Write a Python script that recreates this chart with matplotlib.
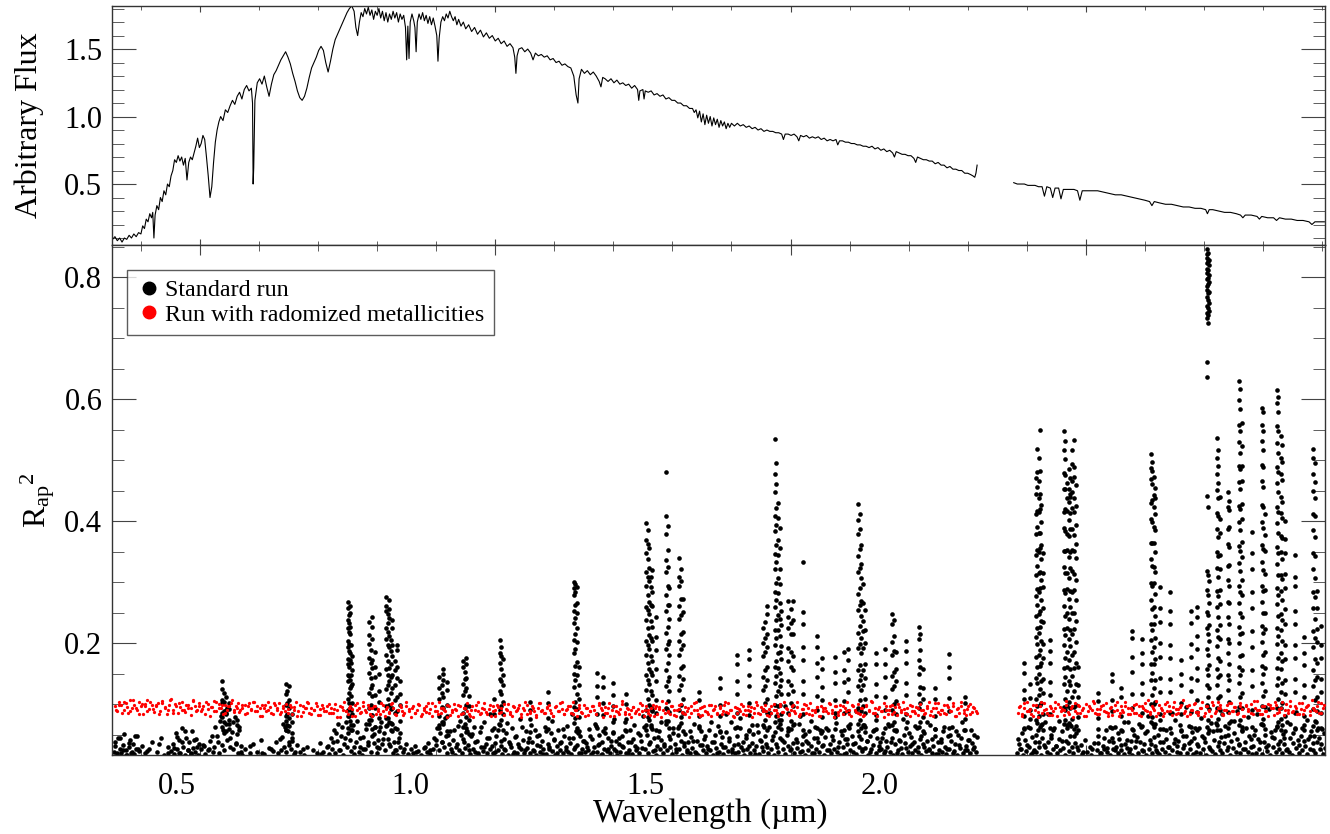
import numpy as np
import matplotlib
matplotlib.use('Agg')
import matplotlib.pyplot as plt
from matplotlib.ticker import MultipleLocator
from matplotlib.lines import Line2D

plt.rcParams['font.family'] = ['Liberation Serif', 'DejaVu Serif']
plt.rcParams['mathtext.fontset'] = 'custom'
plt.rcParams['mathtext.rm'] = 'Liberation Serif'
plt.rcParams['mathtext.it'] = 'Liberation Serif:italic'

# ---- top panel: spectrum (wavelength in micron, arbitrary flux) ----
spec_wl_a = [0.352, 0.356, 0.360, 0.364, 0.368, 0.372, 0.376, 0.380, 0.384, 0.388,
             0.392, 0.396, 0.400, 0.403, 0.406, 0.409, 0.412, 0.415, 0.418, 0.420,
             0.422, 0.424, 0.427, 0.430, 0.433, 0.436, 0.439, 0.442, 0.445, 0.448,
             0.451, 0.454, 0.457, 0.460, 0.463, 0.466, 0.469, 0.472, 0.475, 0.478,
             0.481, 0.484, 0.487, 0.490, 0.493, 0.496, 0.499, 0.502, 0.505, 0.508,
             0.511, 0.514, 0.517, 0.520, 0.523, 0.526, 0.529, 0.532, 0.535, 0.539,
             0.543, 0.547, 0.551, 0.555, 0.559, 0.563, 0.567, 0.571, 0.575, 0.579,
             0.583, 0.587, 0.589, 0.590, 0.591, 0.593, 0.597, 0.601, 0.605, 0.609,
             0.613, 0.617, 0.621, 0.625, 0.629, 0.633, 0.637, 0.641, 0.645, 0.649,
             0.653, 0.657, 0.661, 0.665, 0.669, 0.673, 0.677, 0.681, 0.685, 0.689,
             0.693, 0.697, 0.701, 0.705, 0.709, 0.713, 0.717, 0.721, 0.725, 0.729,
             0.733, 0.737, 0.741, 0.745, 0.749, 0.753, 0.757, 0.761, 0.764, 0.767,
             0.770, 0.773, 0.776, 0.779, 0.782, 0.785, 0.788, 0.791, 0.794, 0.797,
             0.800, 0.803, 0.806, 0.809, 0.812, 0.815, 0.818, 0.821, 0.824, 0.827,
             0.830, 0.833, 0.836, 0.839, 0.842, 0.845, 0.848, 0.850, 0.852, 0.854,
             0.856, 0.859, 0.862, 0.864, 0.866, 0.868, 0.871, 0.874, 0.877, 0.880,
             0.883, 0.886, 0.889, 0.892, 0.895, 0.898, 0.901, 0.903, 0.905, 0.908,
             0.911, 0.914, 0.917, 0.920, 0.923, 0.926, 0.929, 0.932, 0.935, 0.938,
             0.942, 0.946, 0.950, 0.955, 0.960, 0.965, 0.970, 0.975, 0.980, 0.985,
             0.990, 0.995, 1.000, 1.005, 1.010, 1.015, 1.020, 1.025, 1.030, 1.033,
             1.035, 1.037, 1.040, 1.045, 1.050, 1.055, 1.060, 1.064, 1.068, 1.073,
             1.078, 1.083, 1.088, 1.093, 1.098, 1.103, 1.108, 1.113, 1.118, 1.123,
             1.128, 1.133, 1.137, 1.140, 1.142, 1.146, 1.151, 1.156, 1.161, 1.166,
             1.171, 1.176, 1.179, 1.182, 1.186, 1.191, 1.196, 1.201, 1.206, 1.211,
             1.216, 1.221, 1.226, 1.231, 1.236, 1.241, 1.243, 1.245, 1.250, 1.252,
             1.254, 1.259, 1.264, 1.269, 1.274, 1.279, 1.284, 1.289, 1.294, 1.299,
             1.304, 1.309, 1.314, 1.319, 1.324, 1.329, 1.334, 1.337, 1.340, 1.343,
             1.346, 1.349, 1.352, 1.355, 1.358, 1.361, 1.364, 1.367, 1.370, 1.373,
             1.376, 1.379, 1.382, 1.385, 1.388, 1.391, 1.394, 1.397, 1.400, 1.405,
             1.410, 1.415, 1.420, 1.425, 1.430, 1.435, 1.440, 1.445, 1.450, 1.455,
             1.460, 1.465, 1.470, 1.475, 1.480, 1.485, 1.488, 1.491, 1.496, 1.501,
             1.506, 1.511, 1.514, 1.517, 1.522, 1.527, 1.532, 1.537, 1.542, 1.547,
             1.552, 1.557, 1.562, 1.567, 1.572, 1.577, 1.580, 1.583, 1.588, 1.593,
             1.598, 1.603, 1.608, 1.613, 1.618, 1.623, 1.628, 1.633, 1.638, 1.643,
             1.648, 1.653, 1.658, 1.663, 1.668, 1.673, 1.676, 1.679, 1.684, 1.689,
             1.694, 1.699, 1.704, 1.709, 1.712, 1.715, 1.720, 1.725, 1.730, 1.735,
             1.740, 1.745, 1.750, 1.755, 1.760, 1.765, 1.770, 1.775, 1.780, 1.785,
             1.790, 1.795, 1.800, 1.805, 1.809, 1.812, 1.814, 1.816]
spec_flux_a = [0.09, 0.11, 0.08, 0.10, 0.07, 0.10, 0.09, 0.12, 0.10, 0.13,
               0.11, 0.14, 0.13, 0.19, 0.17, 0.24, 0.22, 0.28, 0.25, 0.29,
               0.10, 0.27, 0.34, 0.31, 0.40, 0.37, 0.45, 0.42, 0.50, 0.48,
               0.56, 0.60, 0.68, 0.66, 0.71, 0.67, 0.70, 0.64, 0.69, 0.53,
               0.66, 0.70, 0.68, 0.73, 0.78, 0.84, 0.77, 0.80, 0.86, 0.83,
               0.70, 0.56, 0.40, 0.48, 0.66, 0.81, 0.90, 0.96, 1.00, 0.97,
               1.05, 1.03, 1.08, 1.12, 1.09, 1.15, 1.18, 1.13, 1.20, 1.23,
               1.19, 1.21, 1.10, 0.50, 0.62, 1.12, 1.25, 1.28, 1.24, 1.30,
               1.22, 1.15, 1.24, 1.31, 1.34, 1.38, 1.42, 1.45, 1.48, 1.44,
               1.39, 1.32, 1.26, 1.19, 1.14, 1.12, 1.15, 1.21, 1.29, 1.36,
               1.40, 1.44, 1.49, 1.52, 1.49, 1.40, 1.33, 1.41, 1.50, 1.57,
               1.61, 1.65, 1.69, 1.73, 1.77, 1.80, 1.82, 1.78, 1.66, 1.60,
               1.70, 1.77, 1.74, 1.80, 1.76, 1.81, 1.75, 1.79, 1.72, 1.78,
               1.75, 1.80, 1.73, 1.78, 1.71, 1.77, 1.70, 1.76, 1.72, 1.78,
               1.73, 1.77, 1.70, 1.76, 1.72, 1.75, 1.66, 1.42, 1.67, 1.43,
               1.70, 1.76, 1.71, 1.66, 1.48, 1.70, 1.76, 1.72, 1.77, 1.71,
               1.75, 1.69, 1.74, 1.68, 1.73, 1.67, 1.60, 1.41, 1.58, 1.70,
               1.74, 1.71, 1.76, 1.73, 1.78, 1.74, 1.71, 1.74, 1.68, 1.72,
               1.67, 1.70, 1.65, 1.68, 1.63, 1.66, 1.61, 1.64, 1.59, 1.62,
               1.58, 1.60, 1.56, 1.58, 1.54, 1.56, 1.52, 1.54, 1.51, 1.44,
               1.32, 1.45, 1.50, 1.51, 1.48, 1.50, 1.47, 1.42, 1.47, 1.45,
               1.46, 1.44, 1.45, 1.42, 1.43, 1.40, 1.41, 1.38, 1.39, 1.37,
               1.36, 1.30, 1.16, 1.10, 1.28, 1.35, 1.32, 1.34, 1.31, 1.33,
               1.30, 1.26, 1.22, 1.29, 1.28, 1.26, 1.28, 1.25, 1.27, 1.24,
               1.25, 1.23, 1.24, 1.21, 1.23, 1.20, 1.12, 1.19, 1.20, 1.13,
               1.19, 1.18, 1.19, 1.16, 1.17, 1.15, 1.16, 1.13, 1.14, 1.12,
               1.12, 1.10, 1.10, 1.08, 1.08, 1.06, 1.06, 1.03, 1.05, 0.99,
               1.04, 0.96, 1.02, 0.94, 1.01, 0.95, 1.00, 0.93, 0.99, 0.94,
               0.98, 0.92, 0.97, 0.93, 0.96, 0.91, 0.95, 0.92, 0.95, 0.93,
               0.95, 0.93, 0.94, 0.92, 0.93, 0.91, 0.92, 0.90, 0.91, 0.89,
               0.90, 0.89, 0.89, 0.88, 0.88, 0.87, 0.83, 0.87, 0.87, 0.86,
               0.87, 0.85, 0.82, 0.86, 0.85, 0.86, 0.84, 0.85, 0.84, 0.85,
               0.83, 0.84, 0.82, 0.83, 0.82, 0.83, 0.79, 0.82, 0.82, 0.81,
               0.81, 0.80, 0.80, 0.79, 0.79, 0.78, 0.78, 0.77, 0.78, 0.76,
               0.77, 0.75, 0.76, 0.74, 0.75, 0.73, 0.70, 0.74, 0.73, 0.72,
               0.72, 0.71, 0.71, 0.69, 0.66, 0.70, 0.69, 0.68, 0.68, 0.67,
               0.67, 0.65, 0.66, 0.64, 0.64, 0.62, 0.63, 0.61, 0.61, 0.60,
               0.60, 0.58, 0.58, 0.57, 0.56, 0.55, 0.58, 0.64]
spec_wl_b = [1.878, 1.884, 1.890, 1.896, 1.902, 1.908, 1.914, 1.920, 1.926, 1.930,
             1.934, 1.940, 1.944, 1.948, 1.954, 1.958, 1.962, 1.968, 1.974, 1.980,
             1.986, 1.990, 1.994, 2.000, 2.010, 2.020, 2.030, 2.040, 2.050, 2.060,
             2.070, 2.080, 2.090, 2.100, 2.108, 2.112, 2.116, 2.125, 2.135, 2.145,
             2.155, 2.165, 2.175, 2.185, 2.195, 2.203, 2.206, 2.209, 2.215, 2.225,
             2.235, 2.245, 2.255, 2.262, 2.266, 2.270, 2.280, 2.290, 2.294, 2.298,
             2.308, 2.318, 2.323, 2.328, 2.338, 2.348, 2.358, 2.368, 2.378, 2.383,
             2.388, 2.398, 2.404]
spec_flux_b = [0.51, 0.50, 0.50, 0.50, 0.49, 0.49, 0.49, 0.48, 0.48, 0.41,
               0.48, 0.47, 0.40, 0.47, 0.47, 0.39, 0.46, 0.46, 0.46, 0.46,
               0.45, 0.38, 0.45, 0.45, 0.45, 0.45, 0.44, 0.43, 0.42, 0.42,
               0.41, 0.40, 0.39, 0.38, 0.37, 0.34, 0.37, 0.36, 0.35, 0.35,
               0.34, 0.33, 0.33, 0.32, 0.32, 0.31, 0.28, 0.31, 0.31, 0.30,
               0.29, 0.29, 0.28, 0.27, 0.25, 0.27, 0.27, 0.26, 0.24, 0.26,
               0.25, 0.25, 0.23, 0.25, 0.24, 0.24, 0.23, 0.23, 0.22, 0.20,
               0.22, 0.22, 0.22]

# ---- bottom panel: R_ap^2 per wavelength bin (values in units of 0.001) ----
# standard run, low-level points on two interleaved wavelength samplings
bg_start_a, bg_start_b, bg_step = 0.354, 1.884, 0.0025
bg_r2_a = [22, 38, 17, 45, 26, 19, 33, 51, 24, 16, 29, 41, 20, 35, 18, 27, 47, 23, 5, 31,
           5, 19, 5, 5, 26, 5, 38, 5, 5, 21, 5, 5, 44, 5, 17, 5, 5, 29, 5, 23,
           34, 18, 52, 27, 41, 20, 61, 30, 16, 45, 25, 38, 19, 56, 28, 22, 43, 17, 35, 26,
           5, 31, 18, 5, 24, 40, 5, 21, 29, 5, 48, 19, 72, 33, 58, 24, 86, 41, 67, 30,
           54, 27, 78, 36, 20, 63, 31, 17, 5, 26, 5, 5, 19, 5, 34, 5, 5, 22, 5, 5,
           41, 5, 18, 5, 5, 28, 5, 5, 23, 5, 37, 19, 5, 25, 46, 30, 62, 21, 55, 38,
           27, 44, 18, 5, 33, 5, 21, 5, 5, 17, 5, 29, 5, 5, 5, 24, 5, 5, 19, 5,
           36, 5, 22, 5, 5, 31, 18, 45, 26, 58, 20, 39, 67, 24, 48, 17, 35, 71, 29, 52,
           41, 23, 65, 18, 37, 54, 21, 30, 17, 46, 26, 59, 33, 74, 22, 48, 36, 63, 19, 41,
           28, 70, 35, 52, 24, 66, 43, 31, 57, 20, 38, 25, 17, 44, 29, 5, 22, 5, 34, 18,
           5, 26, 5, 19, 31, 5, 23, 5, 17, 5, 28, 5, 21, 36, 18, 5, 27, 45, 33, 61,
           24, 52, 38, 70, 29, 47, 19, 35, 56, 22, 41, 17, 30, 64, 25, 49, 20, 37, 28, 55,
           33, 18, 47, 26, 62, 21, 39, 16, 54, 30, 23, 71, 35, 19, 44, 27, 58, 20, 36, 48,
           25, 67, 31, 18, 42, 24, 53, 17, 38, 29, 60, 22, 46, 19, 34, 76, 27, 41, 20, 55,
           28, 45, 19, 37, 24, 58, 17, 33, 49, 21, 40, 26, 62, 18, 35, 29, 52, 23, 43, 16,
           31, 57, 25, 38, 20, 47, 30, 64, 22, 36, 18, 44, 27, 55, 33, 19, 48, 26, 39, 21,
           36, 24, 59, 18, 42, 29, 67, 21, 33, 50, 17, 38, 26, 61, 23, 45, 19, 31, 54, 27,
           40, 16, 35, 22, 48, 29, 70, 20, 37, 25, 57, 18, 43, 31, 24, 52, 19, 39, 28, 63,
           27, 49, 20, 38, 65, 23, 44, 17, 32, 56, 26, 41, 19, 35, 72, 24, 47, 29, 18, 53,
           34, 22, 60, 27, 40, 16, 31, 51, 25, 37, 20, 46, 28, 68, 21, 39, 17, 33, 55, 24,
           42, 19, 31, 58, 25, 37, 17, 49, 28, 64, 21, 35, 46, 18, 29, 54, 23, 40, 70, 26,
           33, 19, 47, 22, 61, 30, 38, 16, 44, 27, 57, 20, 36, 51, 24, 32, 66, 18, 41, 29,
           23, 48, 35, 19, 62, 27, 41, 17, 54, 30, 22, 45, 73, 26, 38, 18, 50, 31, 24, 59,
           36, 20, 43, 28, 67, 21, 34, 47, 17, 39, 25, 56, 32, 19, 44, 63, 27, 37, 22, 52,
           31, 17, 46, 24, 58, 35, 20, 41, 27, 69, 22, 38, 16, 50, 29, 43, 19, 34, 61, 25,
           47, 21, 36, 18, 55, 30, 42, 23, 66, 28, 39, 17, 48, 26, 33, 57, 20, 44, 24, 37,
           26, 53, 19, 39, 30, 64, 22, 45, 17, 34, 57, 24, 41, 28, 18, 49, 36, 71, 21, 32,
           46, 19, 38, 25, 60, 29, 43, 17, 35, 52, 23, 40, 27, 66, 20, 31, 48, 18, 37, 24,
           42, 21, 55, 30, 18, 47, 26, 39, 63, 23, 35, 17, 50, 28, 44, 20, 58, 32, 24, 41,
           19, 36, 27, 49, 22]
bg_r2_b = [19, 34, 27, 52, 17, 41, 23, 63, 30, 18, 46, 25, 38, 21, 57, 29, 16, 44, 33, 70,
           22, 37, 18, 49, 26, 60, 31, 20, 43, 24, 55, 28, 17, 39, 66, 23, 47, 30, 19, 36,
           52, 25, 5, 33, 18, 5, 41, 22, 5, 29, 17, 5, 36, 5, 24, 48, 19, 5, 31, 27,
           58, 21, 39, 17, 45, 26, 63, 30, 20, 42, 24, 55, 18, 35, 28, 71, 22, 40, 17, 50,
           29, 46, 19, 37, 62, 23, 34, 17, 55, 27, 41, 20, 68, 31, 24, 49, 18, 38, 26, 59,
           21, 43, 30, 16, 52, 25, 36, 74, 22, 40, 19, 57, 28, 33, 47, 20, 64, 26, 39, 18,
           44, 22, 35, 61, 19, 48, 27, 38, 17, 53, 30, 69, 23, 41, 18, 57, 32, 25, 46, 20,
           36, 64, 24, 50, 17, 39, 28, 72, 21, 43, 33, 19, 55, 26, 37, 60, 22, 47, 29, 18,
           31, 58, 20, 42, 26, 67, 18, 37, 49, 23, 33, 17, 54, 29, 44, 21, 62, 27, 39, 19,
           51, 34, 24, 70, 22, 45, 17, 36, 59, 28, 41, 20, 48, 25, 65, 31, 18, 43, 27, 56,
           24, 47, 19, 38, 61, 26, 35, 18, 52]
bg2_start_a, bg2_start_b, bg2_step = 0.3553, 1.8853, 0.005
bg2_r2_a = [31, 19, 44, 25, 17, 36, 21, 48, 27, 5, 5, 23, 5, 5, 5, 34, 5, 5, 19, 5,
            28, 46, 20, 37, 55, 24, 18, 41, 29, 5, 33, 5, 26, 47, 63, 38, 81, 52, 94, 44,
            70, 35, 58, 22, 5, 5, 31, 5, 5, 5, 20, 5, 5, 27, 5, 5, 42, 68, 57, 33,
            39, 21, 5, 5, 26, 5, 5, 5, 5, 5, 18, 5, 29, 5, 37, 52, 25, 63, 44, 80,
            57, 30, 72, 45, 26, 68, 38, 82, 51, 29, 63, 42, 77, 34, 55, 24, 38, 5, 27, 5,
            5, 5, 22, 5, 5, 30, 5, 24, 5, 41, 66, 38, 77, 49, 27, 58, 35, 72, 43, 60,
            25, 51, 37, 19, 63, 29, 45, 84, 32, 21, 57, 40, 26, 69, 35, 18, 48, 30, 62, 24,
            38, 66, 23, 47, 31, 18, 55, 27, 72, 41, 20, 36, 59, 25, 44, 83, 30, 52, 19, 40,
            29, 47, 21, 64, 34, 18, 53, 26, 40, 75, 23, 45, 31, 58, 19, 37, 66, 28, 49, 81,
            57, 35, 88, 24, 46, 70, 31, 92, 43, 61, 27, 50, 78, 36, 22, 55, 40, 19, 64, 33,
            47, 26, 71, 38, 19, 56, 30, 83, 44, 22, 60, 35, 77, 25, 49, 31, 66, 18, 54, 39,
            62, 29, 85, 47, 34, 74, 41, 96, 55, 27, 68, 38, 80, 23, 51, 36, 72, 20, 45, 58,
            33, 61, 24, 48, 79, 30, 55, 18, 42, 67, 35, 88, 47, 26, 63, 39, 21, 56, 74, 31,
            45, 23, 68, 37, 57, 19, 40, 76, 28, 52, 34, 64, 21, 47, 30, 71, 25, 43, 59, 18,
            38, 62, 27, 49, 20, 55, 33, 70, 24, 41, 58, 29, 46]
bg2_r2_b = [42, 26, 61, 33, 75, 21, 50, 38, 68, 29, 83, 45, 57, 31, 72, 40, 91, 36, 64, 48,
            30, 5, 22, 5, 5, 27, 5, 36, 19, 45, 28, 63, 37, 24, 52, 33, 70, 41, 26, 58,
            39, 67, 25, 53, 81, 34, 46, 22, 74, 38, 58, 29, 86, 43, 31, 65, 48, 95, 36, 54,
            61, 32, 77, 44, 98, 27, 55, 69, 38, 84, 47, 30, 72, 53, 88, 35, 63, 26, 79, 42,
            50, 83, 37, 66, 29, 92, 46, 58, 35, 76, 44, 27, 68, 52, 87, 33, 61, 40, 74, 48,
            36, 71, 45, 59, 28]

# standard run, columns of points where R_ap^2 rises
spike_wl = [0.538, 0.544, 0.549, 0.562, 0.645, 0.650, 0.655, 0.750, 0.754, 0.758,
            0.787, 0.792, 0.797, 0.804, 0.815, 0.820, 0.826, 0.833, 0.839, 0.905,
            0.912, 0.918, 0.945, 0.951, 0.956, 0.998, 1.008, 1.013, 1.059, 1.089,
            1.133, 1.138, 1.142, 1.172, 1.182, 1.199, 1.222, 1.255, 1.260, 1.266,
            1.272, 1.290, 1.295, 1.312, 1.318, 1.345, 1.380, 1.410, 1.430, 1.453,
            1.460, 1.474, 1.479, 1.484, 1.495, 1.505, 1.521, 1.545, 1.553, 1.575,
            1.590, 1.598, 1.615, 1.620, 1.626, 1.645, 1.660, 1.672, 1.678, 1.695,
            1.718, 1.724, 1.745, 1.768, 1.795, 1.895, 1.905, 1.918, 1.922, 1.927,
            1.940, 1.963, 1.968, 1.974, 1.980, 1.986, 2.020, 2.045, 2.060, 2.079,
            2.095, 2.110, 2.115, 2.125, 2.142, 2.162, 2.178, 2.189, 2.205, 2.209,
            2.222, 2.227, 2.240, 2.260, 2.265, 2.282, 2.298, 2.303, 2.323, 2.330,
            2.338, 2.354, 2.370, 2.385, 2.391, 2.398,
            0.541, 0.647, 0.752, 0.756, 0.789, 0.818, 0.823, 0.830, 0.909, 0.948,
            1.010, 1.135, 1.258, 1.263, 1.292, 1.315, 1.457, 1.476, 1.482, 1.500,
            1.618, 1.623, 1.675, 1.720, 1.915, 1.920, 1.925, 1.965, 1.971, 1.977,
            1.983, 2.112, 2.118, 2.207, 2.224, 2.243, 2.262, 2.300, 2.326, 2.333,
            2.388]
spike_r2 = [
    [63, 79, 86, 101, 106, 124, 138], [55, 68, 83, 91, 112], [59, 74, 92, 101], [51, 66, 74],
    [57, 72, 81, 99, 117, 133], [64, 77, 94, 106, 129], [52, 71, 84],
    [61, 90, 109, 137, 148, 166, 174, 193, 203, 224, 238, 257, 268],
    [72, 93, 127, 140, 172, 183, 214, 226, 249, 261], [58, 84, 101, 133, 155, 179],
    [67, 94, 118, 151, 176, 199, 213, 234], [59, 82, 113, 131, 159, 172, 207, 226, 242],
    [62, 93, 115, 144, 161, 185], [56, 77, 104, 122, 150],
    [64, 96, 125, 158, 180, 207, 224, 252, 261, 276], [71, 98, 137, 159, 193, 211, 241, 255, 271],
    [67, 93, 126, 148, 179, 197, 224, 237], [59, 89, 111, 142, 160, 189, 196], [53, 72, 98, 116, 137],
    [61, 81, 109, 126, 145], [67, 93, 112, 139, 150, 157], [56, 81, 98, 123, 136],
    [63, 86, 115, 133, 161, 170], [54, 79, 99, 127, 143, 165, 176], [51, 73, 96, 113],
    [61, 83, 108], [65, 90, 121, 141, 167, 184, 205], [57, 83, 103, 131, 148, 173],
    [54, 75, 90, 103], [59, 77, 102, 119],
    [69, 95, 128, 150, 183, 205, 233, 252, 279, 291, 300], [61, 92, 116, 147, 169, 202, 224, 250, 266, 292],
    [56, 78, 109, 131, 160], [61, 83, 112, 130, 151], [56, 82, 102, 128, 144], [53, 71, 96, 115, 134],
    [56, 75, 100, 116],
    [66, 91, 123, 148, 181, 204, 237, 259, 293, 316, 347, 369, 397],
    [73, 99, 133, 158, 190, 213, 247, 268, 302, 323, 355],
    [59, 90, 114, 147, 171, 204, 226, 261, 284, 320], [57, 85, 106, 137, 158, 189, 210, 242],
    [67, 94, 129, 155, 191, 216, 253, 279, 316, 336, 379, 408, 481],
    [61, 87, 121, 144, 180, 203, 239, 262, 291],
    [64, 90, 123, 146, 181, 204, 239, 261, 293, 309, 340], [56, 86, 109, 141, 163, 197, 218, 251, 273],
    [61, 80, 106, 120], [54, 81, 99, 127, 142], [63, 86, 117, 138, 165, 181],
    [56, 82, 102, 130, 147, 173, 189], [66, 90, 123, 145, 179, 200, 224],
    [57, 86, 109, 140, 161, 193, 215, 247, 261],
    [71, 99, 135, 160, 197, 222, 259, 284, 321, 346, 383, 408, 447, 477, 534],
    [63, 96, 122, 159, 184, 221, 246, 282, 307, 344, 369, 405, 429],
    [59, 84, 117, 139, 173, 195, 229, 252], [61, 85, 116, 137, 171, 192, 224, 243, 269],
    [65, 97, 121, 156, 179, 214, 237, 269], [58, 83, 116, 138, 172, 194, 231, 251, 333],
    [61, 90, 113, 145, 167, 194, 211], [56, 78, 107, 128, 157, 176], [59, 86, 106, 135, 153, 177],
    [57, 85, 105, 136, 156, 185], [64, 88, 119, 141, 172, 190],
    [67, 94, 130, 155, 192, 217, 254, 280, 317, 342, 379, 402, 428],
    [61, 88, 123, 147, 184, 208, 245, 269, 306, 330, 361], [54, 85, 108, 143, 165, 200, 222, 254],
    [59, 82, 113, 133, 165, 184], [61, 90, 112, 144, 165, 191], [66, 91, 124, 146, 180, 201, 232, 247],
    [56, 84, 105, 137, 157, 186], [61, 84, 115, 135, 167, 187, 203], [62, 93, 116, 150, 172, 206, 227],
    [56, 78, 108, 127, 157], [59, 80, 109, 126], [60, 89, 110, 142, 160, 182], [58, 76, 101, 112],
    [59, 80, 109, 123, 151, 167], [61, 90, 110, 133],
    [69, 97, 135, 161, 199, 225, 263, 289, 327, 353, 391, 417, 455, 481, 518],
    [62, 98, 124, 162, 188, 226, 252, 290, 317, 355, 381, 419, 445, 482, 550],
    [58, 83, 118, 141, 176, 199, 234, 257, 292, 315, 347], [61, 84, 115, 136, 168, 187, 205],
    [67, 95, 133, 159, 197, 223, 261, 287, 325, 351, 389, 415, 453, 479, 517, 548],
    [60, 96, 122, 160, 186, 224, 250, 288, 314, 352, 378, 416, 437, 462],
    [65, 93, 131, 157, 195, 221, 259, 285, 323, 349, 387, 413, 439, 445, 471],
    [59, 95, 121, 159, 185, 223, 249, 287, 313, 351, 377, 415, 437, 473, 488, 533],
    [57, 79, 111, 131, 161], [59, 77, 105, 118], [61, 89, 107, 137, 150], [58, 80, 112, 127],
    [59, 93, 117, 153, 177, 208, 220], [64, 85, 116, 135, 166, 183, 206],
    [71, 100, 139, 166, 205, 232, 271, 298, 337, 364, 403, 430, 469, 487, 510],
    [63, 100, 127, 166, 193, 232, 259, 298, 325, 364, 391, 423, 443, 473],
    [59, 84, 119, 142, 177, 200, 235, 257, 292], [61, 85, 119, 141, 175, 197, 231, 252, 283],
    [55, 83, 101, 131, 149, 172], [63, 87, 121, 143, 177, 199, 233, 252],
    [57, 87, 107, 139, 159, 191, 211, 243, 259],
    [62, 97, 131, 158, 190, 224, 251, 287, 318, 441, 636, 661, 733, 741, 752, 768, 779, 786,
     797, 806, 814, 823, 831, 838, 846],
    [58, 92, 126, 164, 203, 229, 266, 301, 744, 758, 775, 792, 803, 819, 828],
    [65, 93, 131, 157, 195, 221, 259, 285, 323, 349, 387, 413, 451, 477, 503, 536],
    [57, 90, 113, 148, 171, 206, 229, 264, 287, 322, 345, 380, 403, 440],
    [61, 87, 123, 147, 183, 207, 243, 267, 303, 327, 363, 387, 423, 447],
    [66, 95, 134, 161, 200, 227, 266, 293, 332, 359, 398, 425, 464, 491, 530, 557, 598, 630],
    [58, 93, 118, 155, 180, 217, 242, 279, 304, 341, 366, 403, 428, 465, 490, 523, 560],
    [63, 91, 129, 155, 193, 219, 257, 283, 321, 347, 382],
    [67, 96, 135, 162, 201, 228, 267, 294, 333, 360, 399, 426, 465, 492, 531, 557, 585],
    [59, 95, 121, 159, 185, 223, 249, 287, 313, 351, 377, 412],
    [64, 93, 132, 159, 198, 225, 264, 291, 330, 357, 396, 423, 462, 489, 528, 555, 593, 615],
    [57, 93, 119, 157, 183, 221, 247, 285, 311, 349, 375, 413, 439, 477, 503, 540],
    [56, 81, 116, 139, 174, 197, 232, 255, 290, 313, 348, 371, 400],
    [61, 85, 119, 141, 175, 197, 231, 253, 293, 309, 345], [58, 80, 112, 132, 164, 183, 210],
    [64, 92, 130, 156, 194, 220, 258, 284, 322, 348, 386, 412, 450, 477, 503, 518],
    [57, 89, 111, 145, 167, 201, 223, 257, 285], [61, 85, 119, 141, 175, 197, 228],
    # neighbouring columns
    [70, 89, 104, 118], [66, 83, 101, 121],
    [80, 101, 118, 146, 160, 187, 199, 218, 233, 246], [66, 90, 113, 129, 147, 168, 196],
    [73, 99, 126, 143, 167, 188], [77, 109, 132, 148, 170, 196, 218, 233, 247],
    [69, 92, 118, 144, 166, 187, 205], [61, 85, 107, 132, 155, 171],
    [71, 95, 118, 132], [68, 93, 122, 141, 152], [73, 96, 116, 137, 158, 179, 193],
    [77, 103, 139, 163, 190, 214, 241, 262, 284, 296],
    [79, 108, 140, 167, 196, 225, 254, 279, 308, 337, 362, 386],
    [63, 95, 122, 153, 178, 208, 236, 263, 292, 308],
    [72, 105, 137, 168, 199, 226, 262, 293, 324, 352, 392],
    [69, 98, 131, 159, 190, 215, 246, 272, 301, 322],
    [74, 101, 129, 156, 186, 208, 235],
    [80, 113, 146, 171, 208, 237, 270, 298, 333, 361, 394, 421, 460, 495],
    [67, 98, 129, 151, 185, 211, 240, 266, 297, 322, 356, 388],
    [72, 101, 132, 160, 186, 215, 233, 255],
    [74, 107, 140, 164, 199, 228, 262, 291, 323, 354, 387, 411],
    [66, 96, 131, 155, 192, 219, 236, 266, 297],
    [71, 100, 129, 153, 187, 212, 238], [70, 101, 128, 161, 189, 214],
    [74, 109, 143, 177, 210, 244, 277, 311, 344, 378, 411, 445, 470],
    [81, 114, 150, 181, 216, 247, 283, 314, 349, 381, 415, 438, 466, 503],
    [66, 102, 137, 168, 204, 236, 271, 303, 337, 361, 399, 427],
    [73, 108, 144, 176, 213, 245, 282, 314, 351, 383, 420, 452, 476, 501, 532],
    [69, 104, 137, 172, 206, 240, 273, 307, 341, 375, 402, 431, 452, 485],
    [76, 111, 146, 180, 215, 249, 284, 318, 353, 387, 421, 448, 466, 494, 517],
    [64, 99, 133, 167, 201, 236, 270, 304, 339, 362, 393, 425, 459],
    [78, 114, 151, 185, 221, 256, 293, 327, 364, 398, 435, 461, 482, 497],
    [67, 103, 139, 174, 209, 245, 281, 316, 350, 386, 412, 437, 454],
    [73, 111, 148, 180, 214, 246, 279, 311, 423, 724, 737, 749, 762, 774, 788, 799, 811, 826, 840],
    [76, 110, 145, 176, 210, 243, 277, 308, 342, 374, 408, 437, 463, 491, 517],
    [69, 104, 139, 166, 200, 232, 265, 294, 328, 358, 391, 418, 433],
    [74, 112, 147, 179, 214, 249, 284, 318, 351, 385, 419, 452, 486, 511, 548, 584, 617],
    [75, 113, 149, 181, 217, 250, 286, 319, 354, 388, 423, 455, 489, 516, 547, 578],
    [71, 108, 143, 176, 211, 244, 279, 312, 347, 380, 415, 448, 481, 511, 547, 578, 604],
    [65, 101, 135, 170, 203, 238, 271, 305, 338, 372, 405, 431, 467, 497, 524],
    [72, 107, 139, 173, 208, 240, 275, 307, 342, 374, 409, 437, 464, 495],
]

# run with randomized metallicities (units of 0.001), two wavelength ranges each sampled twice
red_range_a = (0.356, 1.815)
red_range_b = (1.885, 2.402)
red2_range_a = (0.3575, 1.8135)
red2_range_b = (1.8865, 2.4035)
red_r2_a = [96, 88, 104, 99, 91, 101, 85, 107, 94, 98, 90, 103, 97, 84, 100, 106, 92, 99, 87, 96,
            102, 89, 105, 93, 83, 98, 108, 91, 100, 86, 95, 104, 90, 99, 94, 82, 106, 96, 91, 101,
            88, 97, 103, 92, 81, 95, 105, 89, 100, 93, 84, 99, 91, 97, 107, 87, 96, 102, 90, 94,
            98, 85, 101, 92, 104, 88, 96, 80, 99, 94, 89, 103, 95, 83, 98, 91, 102, 87, 93, 100,
            92, 99, 84, 95, 103, 89, 81, 97, 93, 104, 86, 94, 90, 101, 82, 92, 98, 88, 96, 85,
            94, 86, 100, 91, 79, 95, 103, 89, 84, 97, 92, 80, 101, 94, 87, 96, 90, 99, 83, 93,
            97, 84, 92, 102, 89, 80, 95, 87, 100, 93, 82, 91, 98, 88, 85, 103, 92, 79, 96, 86,
            90, 98, 83, 94, 87, 101, 92, 81, 96, 89, 104, 85, 93, 88, 99, 82, 91, 100, 90, 80,
            96, 86, 93, 102, 84, 91, 79, 98, 89, 83, 94, 101, 87, 92, 81, 97, 90, 99, 85, 94,
            82, 92, 100, 87, 80, 95, 90, 98, 84, 93, 104, 83, 89, 97, 88, 78, 94, 101, 91, 85,
            93, 99, 85, 81, 95, 88, 102, 92, 83, 90, 97, 86, 103, 91, 80, 94, 87, 99, 93, 82,
            88, 97, 91, 83, 99, 93, 79, 95, 86, 102, 90, 81, 97, 87, 92, 105, 84, 94, 83, 90,
            95, 85, 92, 101, 88, 80, 97, 91, 82, 99, 93, 84, 95, 79, 90, 102, 87, 83, 97, 91,
            81, 92, 100, 85, 95, 88, 79, 97, 90, 104, 84, 93, 82, 96, 87, 99, 80, 91, 97, 86,
            93, 83, 98, 87, 102, 90, 81, 95, 85, 92, 100, 83, 90, 97, 88, 79, 93, 103, 85, 95,
            88, 98, 82, 92, 86, 100, 91, 80, 96, 87, 103, 92, 83, 90, 98, 85, 95, 81, 92, 100,
            86, 93, 102, 82, 90, 95, 80, 97, 88, 93, 85, 100, 91, 79, 96, 87, 98, 83, 93, 103,
            91, 80, 96, 87, 100, 84, 94, 82, 98, 90, 105, 85, 93, 81, 95, 88, 101, 91, 83, 96,
            98, 87, 82, 95, 90, 103, 85, 93, 80, 97, 88, 95, 82, 100, 91, 86, 94, 104, 89, 81,
            93, 101, 84, 90, 98, 83, 95, 88, 102, 80, 92, 86, 97, 91, 82, 96, 100, 87, 93, 85]
red_r2_b = [86, 97, 81, 93, 103, 88, 83, 99, 91, 79, 96, 85, 101, 92, 82, 94, 89, 104, 80, 95,
            92, 82, 99, 87, 94, 79, 102, 86, 97, 91, 81, 100, 88, 93, 105, 85, 92, 83, 97, 89,
            101, 86, 94, 82, 99, 90, 80, 96, 87, 104, 93, 83, 91, 99, 85, 96, 80, 94, 102, 88,
            83, 97, 91, 105, 86, 94, 81, 100, 89, 97, 82, 103, 92, 85, 95, 106, 88, 80, 98, 91,
            100, 87, 82, 94, 103, 86, 97, 91, 80, 99, 88, 104, 93, 83, 91, 98, 85, 102, 89, 95,
            86, 102, 92, 81, 97, 88, 100, 83, 94, 105, 90, 84, 96, 89, 80, 99, 93, 103, 86, 92,
            94, 82, 100, 91, 105, 87, 97, 84, 101, 92, 83, 95, 99, 88, 106, 91, 96, 85, 102, 93]
red2_r2_a = [91, 99, 86, 103, 95, 89, 106, 93, 84, 100, 97, 88, 104, 92, 98, 83, 101, 95, 90, 107,
             86, 96, 102, 91, 87, 99, 94, 105, 89, 97, 92, 84, 100, 95, 88, 103, 93, 98, 85, 96,
             101, 90, 94, 87, 99, 83, 96, 91, 104, 88, 93, 81, 98, 90, 86, 101, 94, 83, 97, 89,
             85, 95, 91, 80, 99, 87, 93, 102, 84, 90, 96, 82, 94, 88, 100, 85, 92, 79, 97, 91,
             88, 94, 81, 98, 90, 85, 103, 87, 93, 80, 96, 89, 84, 99, 92, 86, 101, 83, 90, 95,
             82, 97, 89, 93, 86, 100, 80, 91, 96, 85, 102, 88, 83, 94, 90, 79, 97, 87, 92, 99,
             84, 93, 88, 81, 96, 90, 104, 86, 92, 83, 98, 89, 80, 95, 87, 100, 91, 84, 97, 88,
             93, 79, 90, 98, 85, 94, 82, 101, 89, 86, 95, 91, 80, 97, 88, 103, 84, 92, 96, 83,
             90, 99, 86, 81, 94, 88, 97, 83, 102, 91, 85, 93, 80, 96, 89, 84, 100, 87, 92, 79,
             95, 88, 83, 98, 90, 86, 94, 81, 97, 92, 105, 85, 89, 96, 82, 91, 99, 87, 84, 93,
             86, 101, 90, 80, 95, 88, 84, 98, 92, 83, 96, 89, 103, 85, 91, 79, 94, 88, 97, 82,
             90, 95, 86, 99, 83, 92, 88, 80, 97, 91, 85, 100, 87, 94, 82, 96, 89, 104, 84, 92,
             98, 83, 91, 87, 95, 80, 93, 89, 102, 85, 97, 82, 90, 96, 88, 84, 99, 91, 86, 94,
             81, 96, 89, 103, 85, 92, 88, 79, 97, 90, 84, 95, 100, 87, 92, 83, 98, 89, 86, 93,
             90, 84, 97, 82, 94, 101, 87, 91, 85, 99, 88, 96, 80, 93, 104, 86, 92, 83, 95, 89]
red2_r2_b = [95, 84, 101, 89, 92, 80, 98, 87, 103, 91, 85, 96, 82, 94, 100, 88, 90, 105, 83, 97,
             88, 99, 86, 93, 81, 96, 90, 102, 84, 92, 98, 87, 80, 95, 89, 104, 85, 91, 97, 83,
             93, 86, 100, 82, 96, 90, 106, 87, 94, 81, 99, 91, 85, 103, 88, 95, 84, 92, 98, 86,
             97, 83, 90, 101, 87, 94, 80, 96, 89, 104, 85, 93, 99, 82, 91, 102, 88, 95, 84, 97,
             81, 98, 92, 86, 105, 90, 83, 96, 88, 100, 94, 82, 99, 87, 103, 91, 85, 97, 89, 93,
             84, 101, 90, 96, 82, 94, 88, 104, 86, 98]

x_tick_labels = ['0.5', '1.0', '1.5', '2.0']
x_label_wl = [0.461, 0.857, 1.255, 1.651]   # where the labels sit along the axis
legend_labels = ['Standard run', 'Run with radomized metallicities']

# ---- assemble point sets ----
bg_wl = np.concatenate([bg_start_a + bg_step * np.arange(len(bg_r2_a)),
                        bg_start_b + bg_step * np.arange(len(bg_r2_b)),
                        bg2_start_a + bg2_step * np.arange(len(bg2_r2_a)),
                        bg2_start_b + bg2_step * np.arange(len(bg2_r2_b))])
bg_y = np.array(bg_r2_a + bg_r2_b + bg2_r2_a + bg2_r2_b) / 1000.0
sp_wl = np.concatenate([[w] * len(v) for w, v in zip(spike_wl, spike_r2)])
sp_y = np.concatenate([v for v in spike_r2]) / 1000.0
black_x = np.concatenate([bg_wl, sp_wl])
black_y = np.concatenate([bg_y, sp_y])

red_x = np.concatenate([np.linspace(*red_range_a, len(red_r2_a)),
                        np.linspace(*red_range_b, len(red_r2_b)),
                        np.linspace(*red2_range_a, len(red2_r2_a)),
                        np.linspace(*red2_range_b, len(red2_r2_b))])
red_y = np.array(red_r2_a + red_r2_b + red2_r2_a + red2_r2_b) / 1000.0

# ---- figure ----
fig = plt.figure(figsize=(13.3, 8.34), dpi=100)
ax1 = fig.add_axes([0.0842, 0.7062, 0.9120, 0.2866])
ax2 = fig.add_axes([0.0842, 0.0947, 0.9120, 0.6115])

xlim = (0.351, 2.405)

ax1.plot(spec_wl_a, spec_flux_a, color='black', lw=0.8)
ax1.plot(spec_wl_b, spec_flux_b, color='black', lw=0.8)
ax1.set_xlim(xlim)
ax1.set_ylim(0.048, 1.819)
ax1.xaxis.set_major_locator(MultipleLocator(0.5))
ax1.xaxis.set_minor_locator(MultipleLocator(0.1))
ax1.yaxis.set_major_locator(MultipleLocator(0.5))
ax1.yaxis.set_minor_locator(MultipleLocator(0.1))
ax1.yaxis.set_major_formatter(plt.FormatStrFormatter('%.1f'))
ax1.tick_params(which='both', direction='in', top=True, right=True,
                labelbottom=False, labelsize=22, pad=7, color='#444444')
ax1.tick_params(axis='x', which='major', length=4)
ax1.tick_params(axis='x', which='minor', length=2.6)
ax1.tick_params(axis='y', which='major', length=17.5)
ax1.tick_params(axis='y', which='minor', length=8.5)
ax1.set_ylabel('Arbitrary Flux', fontsize=23)
ax1.yaxis.set_label_coords(-0.056, 0.5)

ax2.scatter(black_x, black_y, s=11, color='black', linewidths=0, zorder=2)
ax2.scatter(red_x, red_y, s=5.5, color='red', linewidths=0, zorder=3)
ax2.set_xlim(xlim)
ax2.set_ylim(0.0164, 0.8525)
ax2.xaxis.set_major_locator(MultipleLocator(0.5))
ax2.xaxis.set_minor_locator(MultipleLocator(0.1))
ax2.yaxis.set_major_locator(MultipleLocator(0.2))
ax2.yaxis.set_minor_locator(MultipleLocator(0.05))
ax2.yaxis.set_major_formatter(plt.FormatStrFormatter('%.1f'))
ax2.tick_params(which='both', direction='in', top=True, right=True,
                labelbottom=False, labelsize=22, pad=7, color='#444444')
ax2.tick_params(axis='x', which='major', length=7.2)
ax2.tick_params(axis='x', which='minor', length=4.3)
ax2.tick_params(axis='y', which='major', length=17.5)
ax2.tick_params(axis='y', which='minor', length=8.5)
ax2.set_ylabel(r'R$_{\rm ap}{}^{2}$', fontsize=23)
ax2.yaxis.set_label_coords(-0.045, 0.5)

for pos, lab in zip(x_label_wl, x_tick_labels):
    ax2.text(pos, -0.033, lab, transform=ax2.get_xaxis_transform(),
             ha='center', va='top', fontsize=22)
ax2.set_xlabel('Wavelength (\u00b5m)', fontsize=24)
ax2.xaxis.set_label_coords(0.493, -0.084)

for ax in (ax1, ax2):
    for sp in ax.spines.values():
        sp.set_linewidth(1.0)
        sp.set_color('#333333')

handles = [Line2D([], [], ls='none', marker='o', ms=9, color='black'),
           Line2D([], [], ls='none', marker='o', ms=9, color='red')]
leg = ax2.legend(handles, legend_labels, loc='upper left', bbox_to_anchor=(0.0124, 0.951),
                 fontsize=17.3, frameon=True, fancybox=False, borderpad=0.4,
                 labelspacing=0.1, handletextpad=0.2, handlelength=1.0,
                 borderaxespad=0.0)
leg.get_frame().set_edgecolor('#333333')
leg.get_frame().set_linewidth(1.0)

fig.savefig('out.png', dpi=100)
